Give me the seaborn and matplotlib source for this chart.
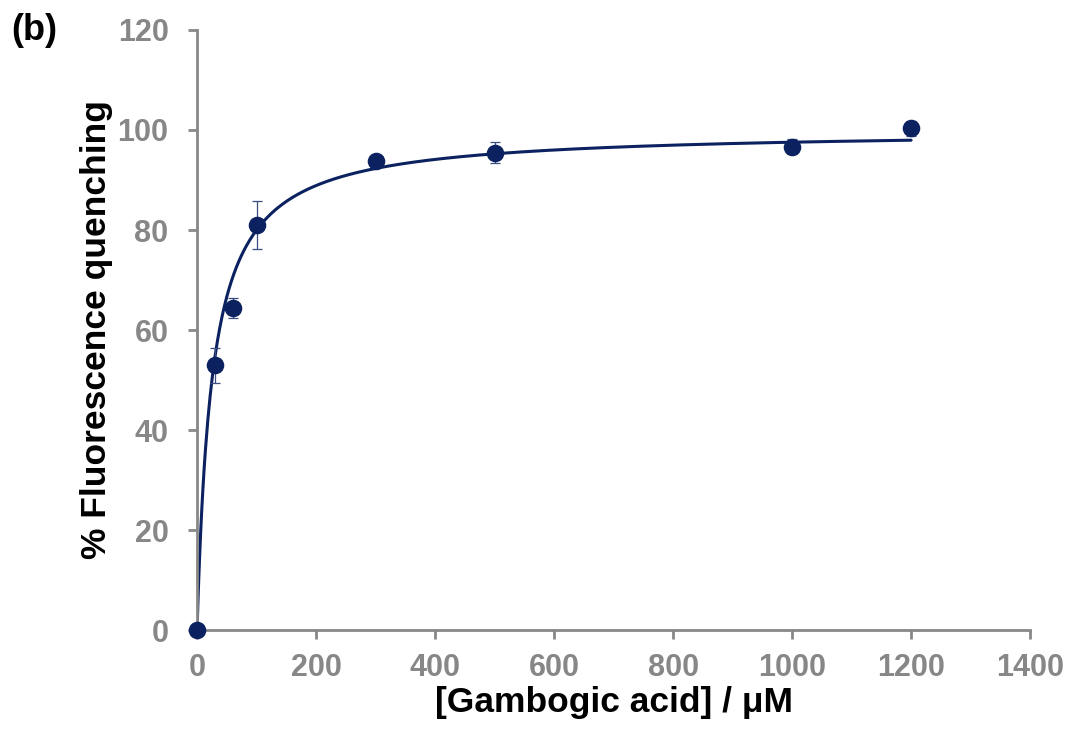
import numpy as np
import pandas as pd
import matplotlib
matplotlib.use("Agg")
import matplotlib.pyplot as plt
import seaborn as sns

# Data
conc = [0, 30, 60, 100, 300, 500, 1000, 1200]
quench = [0, 53.0, 64.5, 81.0, 93.8, 95.5, 96.7, 100.3]
err = [0, 3.5, 2.0, 4.8, 0.8, 2.0, 1.5, 1.5]
# Fitted one-site binding curve parameters (Bmax * x / (Kd + x))
bmax = 100.0
kd = 25.0
x_ticks = [0, 200, 400, 600, 800, 1000, 1200, 1400]
y_ticks = [0, 20, 40, 60, 80, 100, 120]

navy = "#0b2160"
gray = "#878787"

sns.set_theme(style="white")
plt.rcParams['font.family'] = ['Liberation Sans', 'DejaVu Sans']

fig = plt.figure(figsize=(10.68, 7.31), dpi=100)
ax = fig.add_axes([0.1845, 0.138, 0.78, 0.821])

xfit = np.linspace(0, max(conc), 600)
fit_df = pd.DataFrame({"x": xfit, "y": bmax * xfit / (kd + xfit)})
sns.lineplot(data=fit_df, x="x", y="y", ax=ax, color=navy, linewidth=2.2, zorder=2)

df = pd.DataFrame({"x": conc, "y": quench, "e": err})
ax.errorbar(df["x"], df["y"], yerr=df["e"], fmt="none", ecolor="#3a4c80", elinewidth=0.9,
            capsize=3.5, capthick=0.9, zorder=3)
sns.scatterplot(data=df, x="x", y="y", ax=ax, color=navy, s=160, edgecolor=navy,
                linewidth=0, zorder=4, clip_on=False)

ax.set_xlim(0, 1400)
ax.set_ylim(0, 120)
ax.set_xticks(x_ticks)
ax.set_yticks(y_ticks)
for sp in ["top", "right"]:
    ax.spines[sp].set_visible(False)
for sp in ["left", "bottom"]:
    ax.spines[sp].set_color(gray)
    ax.spines[sp].set_linewidth(2.0)
ax.tick_params(axis="both", direction="out", length=6.5, width=2.0, color=gray,
               labelcolor=gray, labelsize=22, bottom=True, left=True)
ax.tick_params(axis="x", pad=10)
ax.tick_params(axis="y", pad=14)
for lab in ax.get_xticklabels() + ax.get_yticklabels():
    lab.set_fontweight("bold")

ax.set_xlabel("[Gambogic acid] / μM", fontsize=25.5, fontweight="bold", color="black", labelpad=2)
ax.set_ylabel("% Fluorescence quenching", fontsize=25.5, fontweight="bold", color="black", labelpad=3)
ax.grid(False)

fig.text(0.011, 0.982, "(b)", fontsize=26, fontweight="bold", color="black", va="top", ha="left")

fig.savefig("out.png", dpi=100)
